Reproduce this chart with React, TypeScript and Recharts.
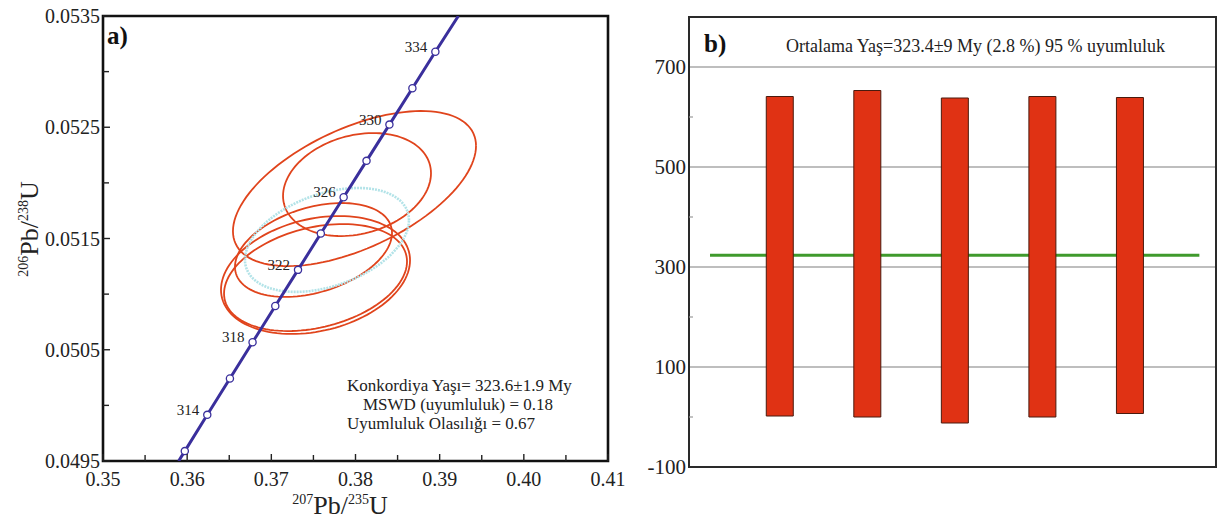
import React from 'react';
import {
  ScatterChart,
  Scatter,
  XAxis,
  YAxis,
  ReferenceArea,
  ComposedChart,
  Bar,
  CartesianGrid,
  ReferenceLine,
} from 'recharts';

const serif = '"Liberation Serif", "DejaVu Serif", serif';

// ---- panel a: concordia diagram ----
const xMajorA = [0.35, 0.36, 0.37, 0.38, 0.39, 0.4, 0.41];
const xMinorA = [0.355, 0.365, 0.375, 0.385, 0.395, 0.405];
const yMajorA = [0.0495, 0.0505, 0.0515, 0.0525, 0.0535];
const yMinorA = [0.05, 0.051, 0.052, 0.053];

const concordiaAges = [312, 314, 316, 318, 320, 322, 324, 326, 328, 330, 332, 334];
const concordiaX = [0.35972, 0.36239, 0.36508, 0.36777, 0.37047, 0.37317, 0.37588, 0.37859, 0.38131, 0.38403, 0.38676, 0.38949];
const concordiaY = [0.049589, 0.049915, 0.050241, 0.050567, 0.050893, 0.051218, 0.051545, 0.051871, 0.052198, 0.052524, 0.052851, 0.053178];
const labeledAges = [314, 318, 322, 326, 330, 334];
// where the curve leaves the frame
const curveStart = { x: 0.35899, y: 0.0495 };
const curveEnd = { x: 0.39222, y: 0.0535 };

// error ellipses: centre, half width, half height, correlation
const ellipseCx = [0.37988, 0.38018, 0.37501, 0.37525, 0.37525];
const ellipseCy = [0.051949, 0.051985, 0.051397, 0.051172, 0.051149];
const ellipseDx = [0.01444, 0.00879, 0.00933, 0.01123, 0.01087];
const ellipseDy = [0.000697, 0.000463, 0.000422, 0.00053, 0.000481];
const ellipseRho = [0.55, 0.22, 0.36, 0.25, 0.3];

// concordia age ellipse
const meanEllipse = { cx: 0.37661, cy: 0.051487, dx: 0.009742, dy: 0.000467, rho: 0.38 };

// ---- panel b: weighted mean ----
const spotIndex = [1, 2, 3, 4, 5];
const ageLow = [2, 0, -12, 0, 7];
const ageHigh = [641, 653, 638, 641, 639];
const meanAge = 323.4;
const yMajorB = [-100, 100, 300, 500, 700];
const yMinorB = [0, 200, 400, 600];

const BLUE = '#3a2f9c';
const RED = '#e0441c';

function outline(cx: number, cy: number, dx: number, dy: number, rho: number) {
  const pts = [];
  const s = Math.sqrt(1 - rho * rho);
  for (let k = 0; k <= 120; k++) {
    const t = (2 * Math.PI * k) / 120;
    pts.push({ x: cx + dx * Math.cos(t), y: cy + dy * (rho * Math.cos(t) + s * Math.sin(t)) });
  }
  return pts;
}

const near = (v: number, list: number[]) => list.some((m) => Math.abs(m - v) < 1e-7);

const NoDot = () => <g />;

const XTickA = (props: any) => {
  const { x, y, payload } = props;
  const major = near(payload.value, xMajorA);
  return (
    <g>
      <line x1={x} x2={x} y1={y} y2={y - (major ? 7 : 6)} stroke="#222" strokeWidth={1.4} />
      {major && (
        <text x={x} y={y + 25} textAnchor="middle" fontSize={20} fontFamily={serif} fill="#222">
          {payload.value.toFixed(2)}
        </text>
      )}
    </g>
  );
};

const YTickA = (props: any) => {
  const { x, y, payload } = props;
  const major = near(payload.value, yMajorA);
  return (
    <g>
      <line x1={x} x2={x + (major ? 7 : 6)} y1={y} y2={y} stroke="#222" strokeWidth={1.4} />
      {major && (
        <text x={x - 3} y={y + 7} textAnchor="end" fontSize={20} fontFamily={serif} fill="#222">
          {payload.value.toFixed(4)}
        </text>
      )}
    </g>
  );
};

const YTickB = (props: any) => {
  const { x, y, payload } = props;
  const major = near(payload.value, yMajorB);
  const minor = near(payload.value, yMinorB);
  return (
    <g>
      {minor && <line x1={x} x2={x + 4} y1={y} y2={y} stroke="#999" strokeWidth={1.2} />}
      {major && (
        <text x={x - 3} y={y + 7} textAnchor="end" fontSize={21} fontFamily={serif} fill="#222">
          {payload.value}
        </text>
      )}
    </g>
  );
};

const AgeMarker = (props: any) => {
  const { cx, cy, payload } = props;
  return (
    <g>
      <circle cx={cx} cy={cy} r={3.6} fill="#fff" stroke={BLUE} strokeWidth={1.3} />
      {labeledAges.includes(payload.age) && (
        <text x={cx - 8} y={cy} textAnchor="end" fontSize={15} fontFamily={serif} fill="#222">
          {payload.age}
        </text>
      )}
    </g>
  );
};

export default function App() {
  const markers = concordiaAges.map((age, i) => ({ age, x: concordiaX[i], y: concordiaY[i] }));
  const curve = [curveStart, ...markers.map((m) => ({ x: m.x, y: m.y })), curveEnd];
  const ellipses = ellipseCx.map((cx, i) => outline(cx, ellipseCy[i], ellipseDx[i], ellipseDy[i], ellipseRho[i]));
  const mean = outline(meanEllipse.cx, meanEllipse.cy, meanEllipse.dx, meanEllipse.dy, meanEllipse.rho);
  const barRows = spotIndex.map((x, i) => ({ x, range: [ageLow[i], ageHigh[i]] }));

  return (
    <div style={{ position: 'absolute', left: 0, top: 0, width: 1217, height: 522, background: '#fff', fontFamily: serif }}>
      <div style={{ position: 'absolute', left: 0, top: 0 }}>
        <ScatterChart width={640} height={522} margin={{ top: 16, right: 32, bottom: 0, left: 0 }}>
          <XAxis
            type="number"
            dataKey="x"
            domain={[0.35, 0.41]}
            ticks={[...xMajorA, ...xMinorA]}
            interval={0}
            height={61}
            axisLine={false}
            tickLine={false}
            tickSize={0}
            tickMargin={0}
            tick={<XTickA />}
            allowDataOverflow
          />
          <YAxis
            type="number"
            dataKey="y"
            domain={[0.0495, 0.0535]}
            ticks={[...yMajorA, ...yMinorA]}
            interval={0}
            width={103}
            axisLine={false}
            tickLine={false}
            tickSize={0}
            tickMargin={0}
            tick={<YTickA />}
            allowDataOverflow
          />
          {ellipses.map((pts, i) => (
            <Scatter
              key={i}
              data={pts}
              fill={RED}
              line={{ stroke: RED, strokeWidth: 1.8 }}
              lineType="joint"
              shape={<NoDot />}
              isAnimationActive={false}
            />
          ))}
          <Scatter
            data={mean}
            fill="#b3e3e8"
            line={{ stroke: '#b3e3e8', strokeWidth: 2.6, strokeDasharray: '2 1' }}
            lineType="joint"
            shape={<NoDot />}
            isAnimationActive={false}
          />
          <Scatter
            data={curve}
            fill={BLUE}
            line={{ stroke: BLUE, strokeWidth: 3 }}
            lineType="joint"
            shape={<NoDot />}
            isAnimationActive={false}
          />
          <Scatter data={markers} fill={BLUE} shape={<AgeMarker />} isAnimationActive={false} />
          <ReferenceArea x1={0.35} x2={0.41} y1={0.0495} y2={0.0535} fill="none" stroke="#111" strokeWidth={2.6} fillOpacity={0} />
          <text x={107} y={44} fontSize={25} fontWeight="bold" fontFamily={serif} fill="#111">a)</text>
          <text x={347} y={391} fontSize={17} fontFamily={serif} fill="#222">Konkordiya Yaşı= 323.6±1.9 My</text>
          <text x={458} y={410} textAnchor="middle" fontSize={17} fontFamily={serif} fill="#222">MSWD (uyumluluk) = 0.18</text>
          <text x={347} y={429} fontSize={17} fontFamily={serif} fill="#222">Uyumluluk Olasılığı = 0.67</text>
          <text x={340} y={514} textAnchor="middle" fontFamily={serif} fill="#222">
            <tspan fontSize={14} dy={-10}>207</tspan>
            <tspan fontSize={26} dy={10}>Pb/</tspan>
            <tspan fontSize={14} dy={-10}>235</tspan>
            <tspan fontSize={26} dy={10}>U</tspan>
          </text>
          <text x={38} y={229} textAnchor="middle" transform="rotate(-90 38 229)" fontFamily={serif} fill="#222">
            <tspan fontSize={14} dy={-10}>206</tspan>
            <tspan fontSize={26} dy={10}>Pb/</tspan>
            <tspan fontSize={14} dy={-10}>238</tspan>
            <tspan fontSize={26} dy={10}>U</tspan>
          </text>
        </ScatterChart>
      </div>
      <div style={{ position: 'absolute', left: 640, top: 0 }}>
        <ComposedChart width={577} height={522} data={barRows} margin={{ top: 17, right: 1, bottom: 55, left: 0 }}>
          <CartesianGrid vertical={false} horizontalValues={yMajorB} stroke="#a9a9a9" strokeWidth={1.3} />
          <XAxis type="number" dataKey="x" domain={[-0.04, 5.98]} hide />
          <YAxis
            type="number"
            domain={[-100, 800]}
            ticks={[...yMajorB, ...yMinorB]}
            interval={0}
            width={49}
            axisLine={false}
            tickLine={false}
            tickSize={0}
            tickMargin={0}
            tick={<YTickB />}
          />
          <ReferenceLine
            segment={[
              { x: 0.2, y: meanAge },
              { x: 5.79, y: meanAge },
            ]}
            stroke="#3f9a2c"
            strokeWidth={3}
            zIndex={250}
          />
          <Bar dataKey="range" barSize={27} fill="#e03214" stroke="#4a1a0e" strokeWidth={1} isAnimationActive={false} />
          <ReferenceArea x1={-0.04} x2={5.98} y1={-100} y2={800} fill="none" fillOpacity={0} stroke="#2a2a2a" strokeWidth={2} />
          <text x={64} y={52} fontSize={25} fontWeight="bold" fontFamily={serif} fill="#111">b)</text>
          <text x={146} y={52} fontSize={18} fontFamily={serif} fill="#222">Ortalama Yaş=323.4±9 My (2.8 %) 95 % uyumluluk</text>
        </ComposedChart>
      </div>
    </div>
  );
}
